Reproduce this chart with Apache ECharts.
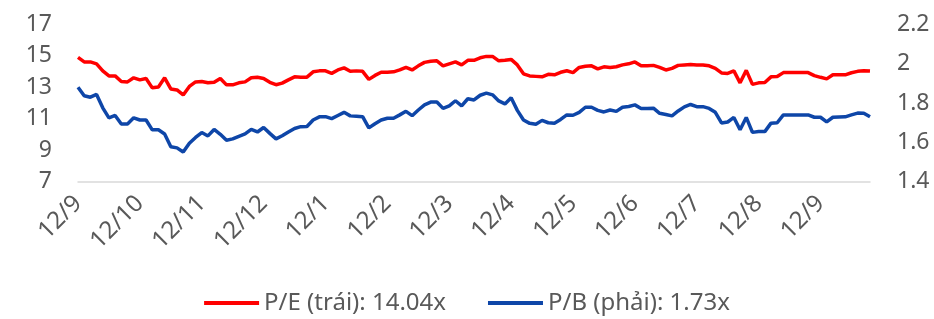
<!DOCTYPE html>
<html>
<head>
<meta charset="utf-8">
<script src="https://cdn.jsdelivr.net/npm/echarts@6/dist/echarts.min.js"></script>
<style>
  html, body { margin: 0; padding: 0; background: #fff; }
  #chart { width: 934px; height: 319px; }
</style>
</head>
<body>
<div id="chart"></div>
<script>
// monthly tick labels (one every 10 points)
const tickLabels = ["12/9", "12/10", "12/11", "12/12", "12/1", "12/2", "12/3",
  "12/4", "12/5", "12/6", "12/7", "12/8", "12/9"];

// P/E (left axis)
const peValues = [
  14.91, 14.62, 14.62, 14.50, 14.05, 13.73, 13.73, 13.37, 13.35, 13.61,
  13.48, 13.57, 12.97, 13.03, 13.61, 12.90, 12.84, 12.52, 13.06, 13.35,
  13.37, 13.29, 13.32, 13.57, 13.16, 13.16, 13.29, 13.35, 13.61, 13.64,
  13.57, 13.32, 13.17, 13.27, 13.48, 13.67, 13.65, 13.65, 13.99, 14.05,
  14.05, 13.89, 14.11, 14.24, 14.02, 14.05, 14.02, 13.51, 13.76, 13.96,
  13.97, 13.99, 14.11, 14.27, 14.11, 14.37, 14.59, 14.66, 14.69, 14.37,
  14.50, 14.62, 14.43, 14.72, 14.72, 14.88, 14.97, 14.97, 14.69, 14.72,
  14.78, 14.43, 13.86, 13.73, 13.70, 13.67, 13.83, 13.80, 13.96, 14.06,
  13.94, 14.27, 14.34, 14.37, 14.18, 14.31, 14.27, 14.31, 14.43, 14.50,
  14.62, 14.37, 14.37, 14.40, 14.27, 14.11, 14.21, 14.40, 14.43, 14.46,
  14.43, 14.43, 14.37, 14.21, 13.92, 13.89, 14.05, 13.29, 14.08, 13.19,
  13.29, 13.31, 13.67, 13.69, 13.94, 13.94, 13.94, 13.94, 13.94, 13.75,
  13.64, 13.54, 13.80, 13.80, 13.80, 13.93, 14.02, 14.06, 14.04
];

// P/B (right axis)
const pbValues = [
  1.881, 1.837, 1.830, 1.844, 1.776, 1.725, 1.737, 1.694, 1.694, 1.725,
  1.714, 1.714, 1.664, 1.664, 1.643, 1.578, 1.572, 1.551, 1.596, 1.625,
  1.650, 1.633, 1.666, 1.641, 1.611, 1.618, 1.631, 1.643, 1.666, 1.653,
  1.676, 1.646, 1.618, 1.634, 1.653, 1.671, 1.680, 1.681, 1.714, 1.730,
  1.731, 1.721, 1.737, 1.753, 1.735, 1.733, 1.731, 1.674, 1.695, 1.714,
  1.723, 1.723, 1.740, 1.758, 1.736, 1.765, 1.791, 1.805, 1.806, 1.773,
  1.786, 1.812, 1.786, 1.822, 1.816, 1.840, 1.851, 1.842, 1.811, 1.796,
  1.827, 1.763, 1.714, 1.697, 1.692, 1.712, 1.700, 1.698, 1.717, 1.740,
  1.738, 1.753, 1.779, 1.779, 1.763, 1.755, 1.765, 1.758, 1.779, 1.783,
  1.791, 1.773, 1.772, 1.774, 1.748, 1.742, 1.735, 1.760, 1.781, 1.793,
  1.782, 1.782, 1.773, 1.753, 1.699, 1.704, 1.727, 1.664, 1.727, 1.651,
  1.655, 1.655, 1.698, 1.700, 1.740, 1.740, 1.740, 1.740, 1.740, 1.728,
  1.728, 1.704, 1.728, 1.729, 1.730, 1.740, 1.749, 1.748, 1.730
];

const categories = peValues.map((_, i) => (i % 10 === 0 ? tickLabels[i / 10] : ""));

const FONT = "Noto Sans";
const TXT = "#595959";

const chart = echarts.init(document.getElementById("chart"));
chart.setOption({
  animation: false,
  textStyle: { fontFamily: FONT },
  grid: { left: 78, right: 64, top: 24.5, bottom: 137.3 },
  legend: {
    bottom: -1,
    left: "center",
    itemWidth: 55,
    itemHeight: 4,
    itemGap: 42,
    icon: "rect",
    textStyle: { fontSize: 24, color: TXT, fontFamily: FONT },
    data: ["P/E (trái): 14.04x", "P/B (phải): 1.73x"],
  },
  xAxis: {
    type: "category",
    data: categories,
    boundaryGap: false,
    axisTick: { show: false },
    axisLine: { lineStyle: { color: "#D9D9D9", width: 1.5 } },
    axisLabel: { interval: 9, rotate: 45, fontSize: 24, color: TXT, margin: 18 },
  },
  yAxis: [
    {
      type: "value",
      min: 7,
      max: 17,
      interval: 2,
      splitLine: { show: false },
      axisLine: { show: false },
      axisLabel: { fontSize: 23, color: TXT, margin: 26 },
    },
    {
      type: "value",
      min: 1.4,
      max: 2.2,
      interval: 0.2,
      splitLine: { show: false },
      axisLine: { show: false },
      axisLabel: { fontSize: 23, color: TXT, margin: 27 },
    },
  ],
  series: [
    {
      name: "P/E (trái): 14.04x",
      type: "line",
      yAxisIndex: 0,
      data: peValues,
      showSymbol: false,
      lineStyle: { color: "#FF0000", width: 3.5 },
      itemStyle: { color: "#FF0000" },
    },
    {
      name: "P/B (phải): 1.73x",
      type: "line",
      yAxisIndex: 1,
      data: pbValues,
      showSymbol: false,
      lineStyle: { color: "#0E46A8", width: 3.5 },
      itemStyle: { color: "#0E46A8" },
    },
  ],
});
</script>
</body>
</html>
